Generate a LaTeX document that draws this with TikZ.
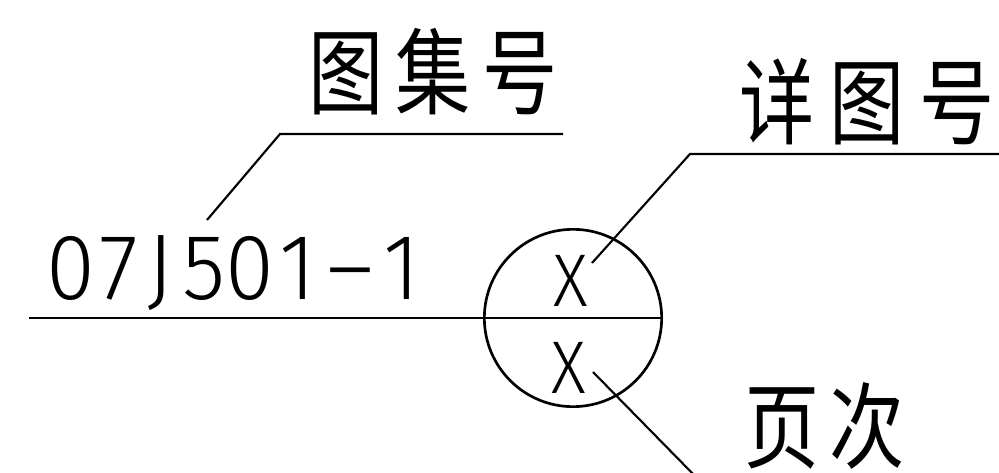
\documentclass[tikz,border=0pt]{standalone}
\usepackage{fontspec}
\usepackage{graphicx}
\newfontfamily\cjk{Noto Sans CJK SC}
\newfontfamily\thinfont{Fira Sans Light}
\newcommand{\narrowtxt}[2][0.8]{\scalebox{#1}[1]{#2}}
% one character in a box of width #1 (px), horizontally scaled by #2
\newcommand{\cbox}[3]{\makebox[#1\dimexpr 0.75pt\relax][c]{\scalebox{#2}[1]{#3}}}
\begin{document}
\begin{tikzpicture}[x=0.75pt,y=-0.75pt,
  cjklbl/.style={inner sep=0pt, anchor=base west, font=\cjk\fontsize{70.5pt}{80pt}\selectfont},
  numlbl/.style={inner sep=0pt, anchor=base west, font=\thinfont\fontsize{70pt}{80pt}\selectfont},
  xlbl/.style={inner sep=0pt, anchor=center, font=\thinfont\fontsize{56pt}{60pt}\selectfont},
  heavy/.style={line width=2pt},
  leader/.style={line width=1.6pt}]
\useasboundingbox (0,0) rectangle (999,473);
% texts
\node[cjklbl] (tuji) at (308,108) {\narrowtxt{图\kern11pt 集\kern11pt 号}};
\node[cjklbl] (xiangtu) at (739,138) {\narrowtxt{详\kern14pt 图\kern14pt 号}};
\node[cjklbl] (yeci) at (744,461) {\narrowtxt{页\kern9pt 次}};
\node[numlbl] (num) at (45,300) {\cbox{51.5}{0.95}{0}\cbox{43.5}{0.95}{7}\cbox{40}{0.95}{J}\cbox{47.25}{0.95}{5}\cbox{45.5}{0.95}{0}\cbox{50}{0.95}{1}\cbox{54.25}{1.6}{-}\cbox{49.5}{0.95}{1}};
% circle
\node[circle, draw, heavy, minimum size=133pt, inner sep=0pt] (circ) at (573,318) {};
\node[xlbl] (xa) at (571,281) {\narrowtxt[0.9]{X}};
\node[xlbl] (xb) at (569,368) {\narrowtxt[0.9]{X}};
% coordinates
\coordinate (mainL) at (29,318);
\coordinate (tujiL) at (280,134);
\coordinate (tujiR) at (563,134);
\coordinate (tujiE) at (207,220);
\coordinate (xtL) at (690,154);
\coordinate (xtR) at (999,154);
\coordinate (xtE) at (592,263);
\coordinate (ycE) at (593,372);
\coordinate (ycB) at (695,476);
% lines
\draw[heavy] (mainL) -- (circ.east);
\draw[leader] (tujiE) -- (tujiL) -- (tujiR);
\draw[leader] (xtE) -- (xtL) -- (xtR);
\draw[leader] (ycE) -- (ycB);
\end{tikzpicture}
\end{document}
